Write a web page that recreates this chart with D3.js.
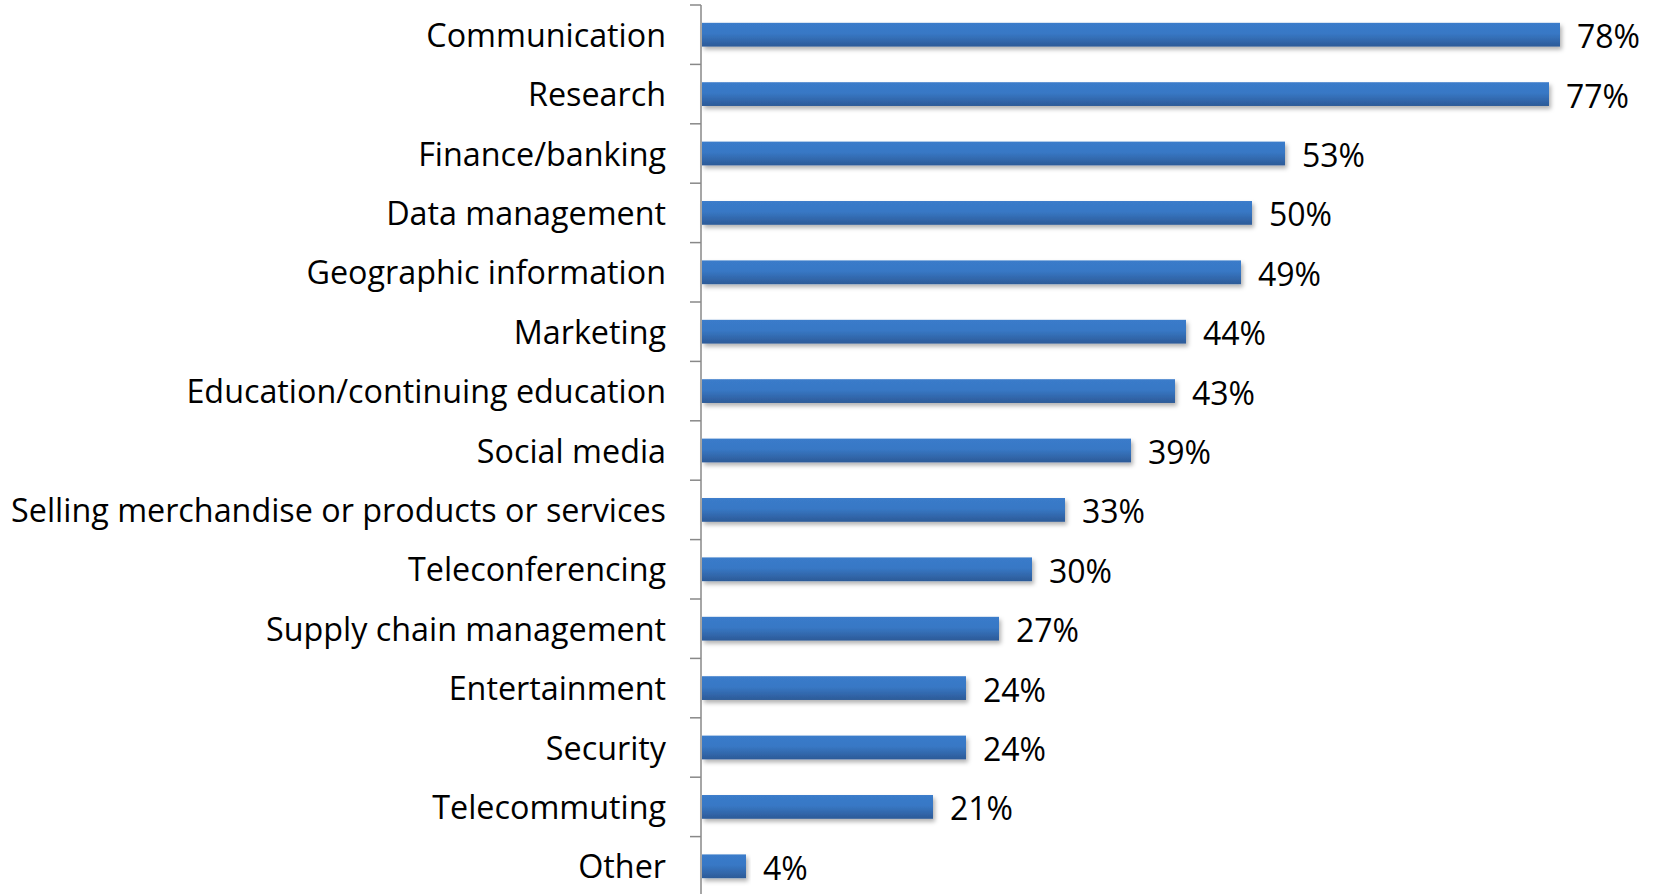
<!DOCTYPE html>
<html><head><meta charset="utf-8">
<script src="https://cdn.jsdelivr.net/npm/d3@7"></script>
<style>html,body{margin:0;padding:0;background:#fff;overflow:hidden}</style>
</head><body><svg id="c" width="1657" height="894"></svg>
<script>
const categories = ["Communication","Research","Finance/banking","Data management","Geographic information","Marketing","Education/continuing education","Social media","Selling merchandise or products or services","Teleconferencing","Supply chain management","Entertainment","Security","Telecommuting","Other"];
const values = [78,77,53,50,49,44,43,39,33,30,27,24,24,21,4];
const valueLabels = ["78%","77%","53%","50%","49%","44%","43%","39%","33%","30%","27%","24%","24%","21%","4%"];

(function(){
const svg = d3.select("#c");
const x0 = 702, plotTop = 5, step = 59.4;
const x = d3.scaleLinear().domain([0, 78]).range([x0, 1560]);
const y = d3.scaleBand().domain(categories).range([plotTop, plotTop + step * categories.length]).paddingInner(0.6).paddingOuter(0.3);

const defs = svg.append("defs");
const g = defs.append("linearGradient").attr("id","bg").attr("x1",0).attr("y1",0).attr("x2",0).attr("y2",1);
g.append("stop").attr("offset","0%").attr("stop-color","#3a7bca");
g.append("stop").attr("offset","45%").attr("stop-color","#3878c5");
g.append("stop").attr("offset","100%").attr("stop-color","#2c5a97");
const f = defs.append("filter").attr("id","sh").attr("x","-5%").attr("y","-50%").attr("width","115%").attr("height","250%");
f.append("feDropShadow").attr("dx",2).attr("dy",3).attr("stdDeviation",2).attr("flood-color","#000").attr("flood-opacity",0.3);

svg.selectAll("rect.bar").data(values).enter().append("rect")
  .attr("x", x(0)).attr("y", (d,i) => y(categories[i]))
  .attr("width", d => x(d) - x(0)).attr("height", y.bandwidth())
  .attr("fill","url(#bg)").attr("filter","url(#sh)");

const axisX = 701;
svg.append("line").attr("x1",axisX).attr("x2",axisX).attr("y1",plotTop).attr("y2",894).attr("stroke","#888").attr("stroke-width",1.5);
d3.range(categories.length + 1).forEach(i => {
  svg.append("line").attr("x1",axisX-11).attr("x2",axisX).attr("y1",plotTop + i*step).attr("y2",plotTop + i*step).attr("stroke","#888").attr("stroke-width",1.5);
});

const font = "'Open Sans', Lato, sans-serif";
svg.selectAll("text.cat").data(categories).enter().append("text")
  .attr("x", 666).attr("y", d => y(d) + y.bandwidth()/2 - 1)
  .attr("text-anchor","end").attr("dominant-baseline","central")
  .style("font-family", font).style("font-size","32.3px").attr("fill","#000").text(d => d);

svg.selectAll("text.val").data(values).enter().append("text")
  .attr("x", d => x(d) + 17).attr("y", (d,i) => y(categories[i]) + y.bandwidth()/2 + 1)
  .attr("dominant-baseline","central")
  .style("font-family", font).style("font-size","32px").attr("fill","#000")
  .text((d,i) => valueLabels[i]);
})();
</script></body></html>
